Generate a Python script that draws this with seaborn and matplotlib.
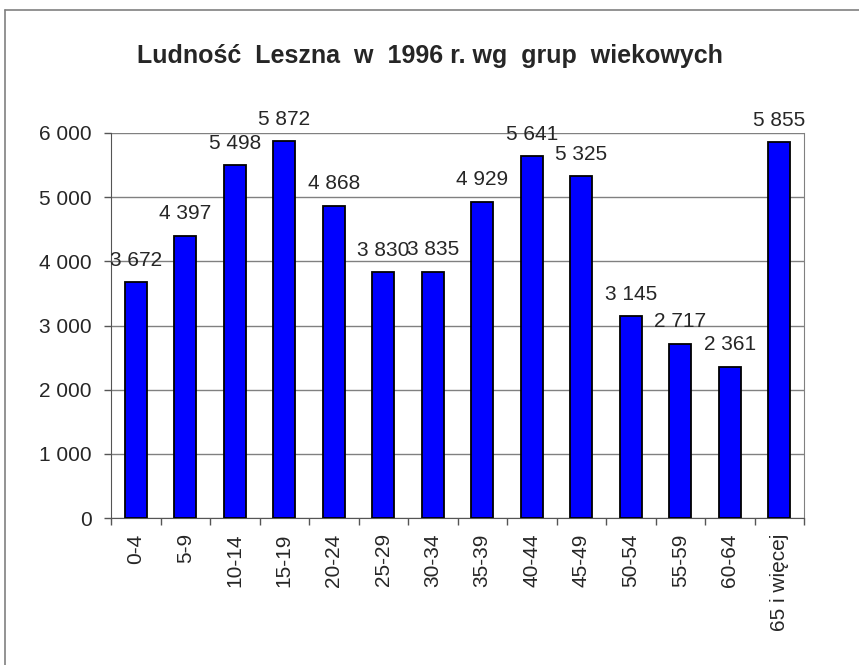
import numpy as np
import pandas as pd
import seaborn as sns
import matplotlib.pyplot as plt
from matplotlib.lines import Line2D

# Age groups and population of Leszno in 1996
age_groups = ['0-4', '5-9', '10-14', '15-19', '20-24', '25-29', '30-34',
              '35-39', '40-44', '45-49', '50-54', '55-59', '60-64', '65 i więcej']
population = [3672, 4397, 5498, 5872, 4868, 3830, 3835,
              4929, 5641, 5325, 3145, 2717, 2361, 5855]
y_ticks = [0, 1000, 2000, 3000, 4000, 5000, 6000]

df = pd.DataFrame({'grupa': age_groups, 'ludnosc': population})


def fmt(v):
    return f'{int(v):,}'.replace(',', ' ')


sns.set_style('white')
plt.rcParams['font.family'] = ['Liberation Sans', 'DejaVu Sans']

fig = plt.figure(figsize=(8.59, 6.65), dpi=100)
ax = fig.add_axes([111 / 859, 1 - 518 / 665, (804 - 111) / 859, (518 - 133) / 665])

sns.barplot(data=df, x='grupa', y='ludnosc', color='#0000ff', saturation=1,
            width=0.45, edgecolor='black', linewidth=1.3, ax=ax, zorder=3)

ax.set_ylim(0, 6000)
ax.set_xlim(-0.5, len(age_groups) - 0.5)
ax.set_yticks(y_ticks)
ax.set_yticklabels([fmt(v) for v in y_ticks], fontsize=15)
ax.set_xticks(range(len(age_groups)))
ax.set_xticklabels(age_groups, rotation=90, fontsize=15)
ax.tick_params(axis='x', length=0, pad=11)
ax.tick_params(axis='y', length=5, width=1, color='#555555', left=True, pad=9)
ax.set_xlabel('')
ax.set_ylabel('')

# category boundary ticks under the axis
ax.set_xticks(np.arange(-0.5, len(age_groups), 1.0), minor=True)
ax.tick_params(axis='x', which='minor', length=5, width=1, color='#555555', bottom=True)

ax.yaxis.grid(True, color='#808080', linewidth=1, zorder=0)
ax.spines['top'].set_visible(False)
ax.spines['left'].set_color('#555555')
ax.spines['bottom'].set_color('#555555')
ax.spines['right'].set_color('#808080')

for i, v in enumerate(population):
    ax.annotate(fmt(v), (i, v), xytext=(0, 9), textcoords='offset points',
                ha='center', va='bottom', fontsize=15)

fig.text(0.5, 1 - 56 / 665, 'Ludność  Leszna  w  1996 r. wg  grup  wiekowych',
         ha='center', va='center', fontsize=18, fontweight='bold')

# outer chart frame
fig.add_artist(Line2D([5 / 859, 5 / 859], [0, 1 - 10 / 665], color='#808080', lw=1.2,
                      transform=fig.transFigure))
fig.add_artist(Line2D([5 / 859, 1], [1 - 10 / 665, 1 - 10 / 665], color='#808080', lw=1.2,
                      transform=fig.transFigure))

fig.savefig('out.png', dpi=100, facecolor='white')
